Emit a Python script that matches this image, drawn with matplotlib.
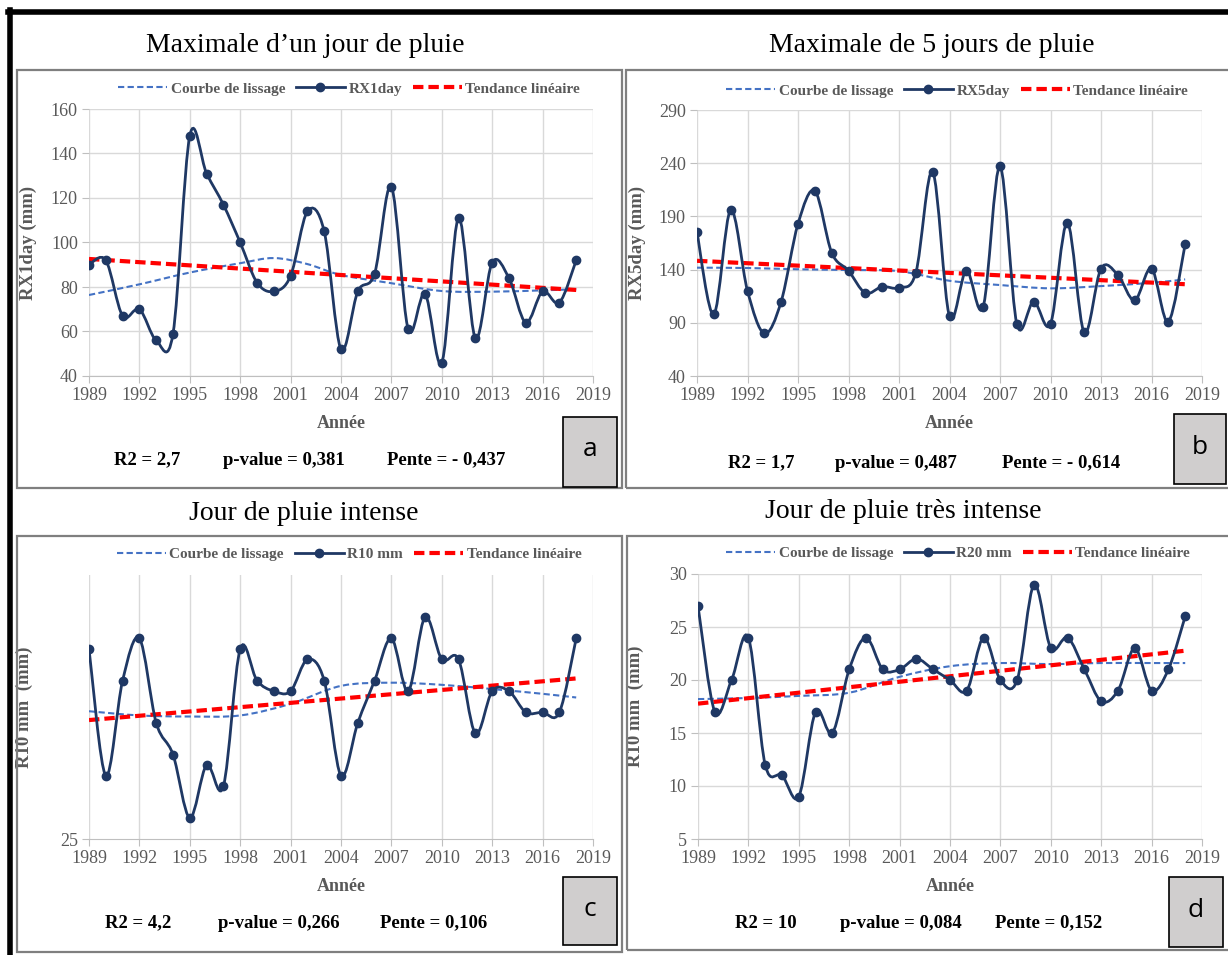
import numpy as np
import matplotlib.pyplot as plt
from matplotlib.path import Path
from matplotlib.patches import PathPatch, Rectangle
from matplotlib.lines import Line2D

# --- Données ---
annees = np.arange(1989, 2019)

rx1day = [90, 92, 67, 70, 56, 59, 148, 131, 117, 100, 82, 78, 85, 114, 105,
          52, 78, 86, 125, 61, 77, 46, 111, 57, 91, 84, 64, 78, 73, 92]
rx5day = [175, 98, 196, 120, 80, 110, 183, 214, 156, 139, 118, 124, 123, 137, 232,
          96, 139, 105, 237, 89, 110, 89, 184, 81, 141, 135, 111, 141, 91, 164]
r10mm = [43, 31, 40, 44, 36, 33, 27, 32, 30, 43, 40, 39, 39, 42, 40,
         31, 36, 40, 44, 39, 46, 42, 42, 35, 39, 39, 37, 37, 37, 44]
r20mm = [27, 17, 20, 24, 12, 11, 9, 17, 15, 21, 24, 21, 21, 22, 21,
         20, 19, 24, 20, 20, 29, 23, 24, 21, 18, 19, 23, 19, 21, 26]

# courbes de lissage (lues tous les ~3 ans)
lis_annees_a = [1989, 1992, 1995, 1998, 2000, 2002, 2004, 2007, 2010, 2013, 2016, 2018]
lis_a = [76.4, 81.2, 86.5, 90.7, 93.0, 90.3, 85.4, 81.7, 78.2, 77.9, 78.5, 79.0]
lis_annees = [1989, 1992, 1995, 1998, 2001, 2004, 2007, 2010, 2013, 2016, 2018]
lis_b = [141.8, 141.5, 140.3, 139.6, 138.5, 129.5, 125.5, 122.4, 124.5, 127.6, 130.8]
lis_c = [37.1, 36.7, 36.6, 36.7, 37.8, 39.5, 39.8, 39.6, 39.2, 38.75, 38.4]
lis_d = [18.2, 18.3, 18.5, 18.8, 20.3, 21.3, 21.6, 21.5, 21.6, 21.6, 21.6]

titres = ["Maximale d\u2019un jour de pluie", "Maximale de 5 jours de pluie",
          "Jour de pluie intense", "Jour de pluie tr\u00e8s intense"]
noms = ["RX1day", "RX5day", "R10 mm", "R20 mm"]
ylabels = ["RX1day (mm)", "RX5day (mm)", "R10 mm  (mm)", "R10 mm  (mm)"]
stats = [("R2 = 2,7", "p-value = 0,381", "Pente = - 0,437"),
         ("R2 = 1,7", "p-value = 0,487", "Pente = - 0,614"),
         ("R2 = 4,2", "p-value = 0,266", "Pente = 0,106"),
         ("R2 = 10", "p-value = 0,084", "Pente = 0,152")]
lettres = ["a", "b", "c", "d"]

# --- Style ---
MARINE = "#1F3864"
BLEU = "#4472C4"
ROUGE = "#FF0000"
GRIS = "#595959"
SERIF = "Liberation Serif"

W, H = 1228, 955
fig = plt.figure(figsize=(W / 100, H / 100), dpi=100)


def fx(x):
    return x / W


def fy(y):
    return 1 - y / H


def courbe_lisse(ax, x, y, **kw):
    # courbe lissée type Excel (Bézier à travers les points)
    pts = np.column_stack([np.asarray(x, float), np.asarray(y, float)])
    n = len(pts)
    verts = [pts[0]]
    codes = [Path.MOVETO]
    for i in range(n - 1):
        p0 = pts[max(i - 1, 0)]
        p1 = pts[i]
        p2 = pts[i + 1]
        p3 = pts[min(i + 2, n - 1)]
        verts += [p1 + (p2 - p0) / 6, p2 - (p3 - p1) / 6, p2]
        codes += [Path.CURVE4] * 3
    ax.add_patch(PathPatch(Path(verts, codes), fill=False, **kw))


def panneau(k, box, axpos, valeurs, lis_x, lis_y, ylim, yticks, grille_y,
            titre_xy, leg_xy, ylab_x, stat_x, stat_y, lettre_box):
    # cadre du panneau
    x0, y0, x1, y1 = box
    fig.patches.append(Rectangle((fx(x0), fy(y1)), fx(x1 - x0), (y1 - y0) / H,
                                 transform=fig.transFigure, fill=False,
                                 edgecolor="#7f7f7f", lw=1.6))
    fig.text(fx(titre_xy[0]), fy(titre_xy[1]), titres[k], ha="center", va="center",
             fontsize=20, family=SERIF, color="black")

    a0, a1, atop, abot = axpos
    ax = fig.add_axes([fx(a0), fy(abot), fx(a1 - a0), (abot - atop) / H])
    ax.set_xlim(1989, 2019)
    ax.set_ylim(*ylim)
    ax.set_xticks(range(1989, 2020, 3))
    ax.set_yticks(yticks)
    for s in ["top", "right", "left"]:
        ax.spines[s].set_visible(False)
    ax.spines["bottom"].set_color("#bfbfbf")
    ax.grid(axis="x", color="#d9d9d9", lw=1)
    if grille_y:
        ax.grid(axis="y", color="#d9d9d9", lw=1)
    ax.set_axisbelow(True)
    ax.tick_params(length=5, color="#bfbfbf", labelsize=13, labelcolor=GRIS, pad=3)
    for t in ax.get_xticklabels() + ax.get_yticklabels():
        t.set_family(SERIF)

    # lissage, tendance, série
    courbe_lisse(ax, lis_x, lis_y, edgecolor=BLEU, lw=1.5, linestyle=(0, (3, 1.6)), zorder=3)
    a, b = np.polyfit(annees, valeurs, 1)
    ax.plot([annees[0], annees[-1]], [a * annees[0] + b, a * annees[-1] + b],
            color=ROUGE, lw=3, ls=(0, (2.5, 1.2)), zorder=4)
    courbe_lisse(ax, annees, valeurs, edgecolor=MARINE, lw=2, zorder=5)
    ax.plot(annees, valeurs, "o", color=MARINE, ms=6, zorder=6)

    handles = [Line2D([], [], color=BLEU, lw=1.5, ls=(0, (3, 1.6))),
               Line2D([], [], color=MARINE, lw=2, marker="o", ms=6),
               Line2D([], [], color=ROUGE, lw=3, ls=(0, (2.5, 1.2)))]
    leg = ax.legend(handles, ["Courbe de lissage", noms[k], "Tendance lin\u00e9aire"],
                    loc="center", bbox_to_anchor=(fx(leg_xy[0]), fy(leg_xy[1])),
                    bbox_transform=fig.transFigure, ncol=3, frameon=False,
                    handlelength=3.2, handletextpad=0.25, columnspacing=0.7,
                    prop={"family": SERIF, "weight": "bold", "size": 11})
    for t in leg.get_texts():
        t.set_color(GRIS)

    ax.set_ylabel(ylabels[k], family=SERIF, weight="bold", fontsize=13.5, color=GRIS)
    ax.yaxis.set_label_coords(fx(ylab_x), 0.5 * (fy(atop) + fy(abot)),
                              transform=fig.transFigure)
    ax.set_xlabel("Ann\u00e9e", family=SERIF, weight="bold", fontsize=13, color=GRIS,
                  labelpad=8)

    for txt, xs in zip(stats[k], stat_x):
        fig.text(fx(xs), fy(stat_y), txt, ha="left", va="center", family=SERIF,
                 weight="bold", fontsize=13.5, color="black")

    bx0, by0, bx1, by1 = lettre_box
    fig.patches.append(Rectangle((fx(bx0), fy(by1)), fx(bx1 - bx0), (by1 - by0) / H,
                                 transform=fig.transFigure, facecolor="#d0cece",
                                 edgecolor="black", lw=1.2))
    fig.text(fx((bx0 + bx1) / 2), fy((by0 + by1) / 2 - 2), lettres[k], ha="center",
             va="center", fontsize=19, family="Open Sans", color="black")
    return ax


panneau(0, (17, 70, 622, 488), (89, 593, 109, 376), rx1day, lis_annees_a, lis_a,
        (40, 160), range(40, 161, 20), True, (305, 45), (349, 89), 37,
        (114, 223, 387), 460, (563, 417, 617, 487))
panneau(1, (626, 70, 1232, 488), (697, 1202, 110, 376), rx5day, lis_annees, lis_b,
        (40, 290), range(40, 291, 50), True, (932, 45), (957, 91), 646,
        (728, 835, 1002), 463, (1174, 414, 1226, 484))
panneau(2, (17, 536, 622, 952), (89, 593, 575, 839), r10mm, lis_annees, lis_c,
        (25, 50), [25], False, (304, 513), (349, 554), 33,
        (105, 218, 380), 923, (563, 877, 617, 945))
panneau(3, (627, 536, 1232, 950), (698, 1202, 574, 839), r20mm, lis_annees, lis_d,
        (5, 30), range(5, 31, 5), True, (903, 511), (958, 553), 644,
        (735, 840, 995), 923, (1169, 877, 1223, 947))

# cadre noir extérieur
fig.add_artist(Line2D([fx(8), fx(W)], [fy(12), fy(12)], color="black", lw=4,
                      transform=fig.transFigure))
fig.add_artist(Line2D([fx(10), fx(10)], [fy(10), fy(H)], color="black", lw=4,
                      transform=fig.transFigure))

fig.savefig("out.png", dpi=100)
